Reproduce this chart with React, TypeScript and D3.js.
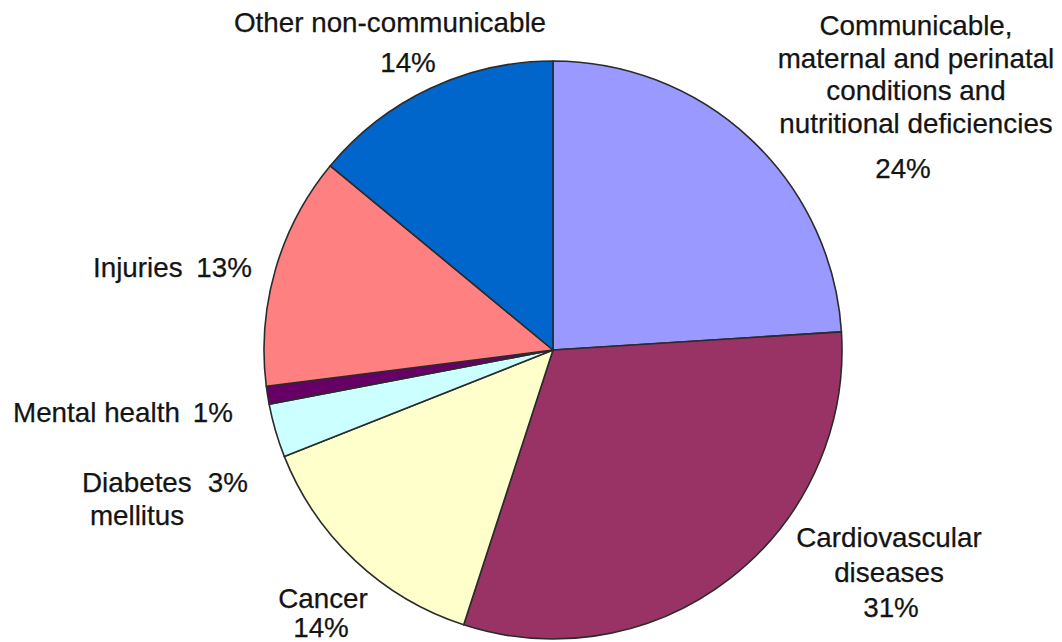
import React from "react";
import * as d3 from "d3";

// Share of burden by cause group, clockwise from 12 o'clock
const causes = [
  "Communicable",
  "Cardiovascular",
  "Cancer",
  "Diabetes",
  "Mental health",
  "Injuries",
  "Other non-communicable",
];
const shares = [24, 31, 14, 3, 1, 13, 14];
const sliceColors = ["#9999ff", "#993366", "#ffffcc", "#ccffff", "#660066", "#ff8080", "#0066cc"];

// Label text lines per cause
const labelLines: string[][] = [
  ["Communicable,", "maternal and perinatal", "conditions and", "nutritional deficiencies"],
  ["Cardiovascular", "diseases"],
  ["Cancer"],
  ["Diabetes"],
  ["Mental health"],
  ["Injuries"],
  ["Other non-communicable"],
];

const W = 1062;
const H = 642;
const cx = 553;
const cy = 350;
const R = 289;
const FONT = "'Liberation Sans', Arial, Helvetica, sans-serif";
const FS = 27.8;

type Placement = {
  x: number;
  y: number;
  lh: number;
  pctX: number;
  pctY: number;
  anchor: "start" | "middle" | "end";
  inline?: boolean;
};

// Where each label block sits around the pie
const placements: Placement[] = [
  { x: 916, y: 35, lh: 32.5, pctX: 903, pctY: 178, anchor: "middle" },
  { x: 889, y: 547, lh: 35, pctX: 891, pctY: 617, anchor: "middle" },
  { x: 323, y: 608, lh: 29, pctX: 321, pctY: 637, anchor: "middle" },
  { x: 82, y: 492, lh: 33, pctX: 248, pctY: 492, anchor: "start", inline: true },
  { x: 13, y: 422, lh: 33, pctX: 233, pctY: 422, anchor: "start", inline: true },
  { x: 93, y: 277, lh: 33, pctX: 252, pctY: 277, anchor: "start", inline: true },
  { x: 390, y: 32, lh: 40, pctX: 408, pctY: 72, anchor: "middle" },
];

export default function App() {
  const pie = d3
    .pie<number>()
    .sort(null)
    .value((d) => d)
    .startAngle(0)
    .endAngle(2 * Math.PI);
  const arcs = pie(shares);
  const arc = d3.arc<d3.PieArcDatum<number>>().innerRadius(0).outerRadius(R);

  return (
    <svg
      width={W}
      height={H}
      viewBox={`0 0 ${W} ${H}`}
      style={{ position: "absolute", left: 0, top: 0, background: "#fff" }}
    >
      <g transform={`translate(${cx},${cy})`}>
        {arcs.map((a, i) => (
          <path
            key={causes[i]}
            d={arc(a) || ""}
            fill={sliceColors[i]}
            stroke="#2b2b2b"
            strokeWidth={1.6}
            strokeLinejoin="round"
          />
        ))}
      </g>
      <g fontFamily={FONT} fontSize={FS} fill="#141414" stroke="#141414" strokeWidth={0.25}>
        {placements.map((p, i) => {
          const lines = labelLines[i];
          const pct = `${shares[i]}%`;
          if (p.inline) {
            return (
              <g key={causes[i]}>
                <text x={p.x} y={p.y} textAnchor="start">
                  {lines[0]}
                </text>
                <text x={p.pctX} y={p.pctY} textAnchor="end">
                  {pct}
                </text>
                {i === 3 && (
                  <text x={137} y={p.y + p.lh} textAnchor="middle">
                    mellitus
                  </text>
                )}
              </g>
            );
          }
          return (
            <g key={causes[i]}>
              {lines.map((ln, j) => (
                <text key={j} x={p.x} y={p.y + j * p.lh} textAnchor={p.anchor}>
                  {ln}
                </text>
              ))}
              <text x={p.pctX} y={p.pctY} textAnchor="middle">
                {pct}
              </text>
            </g>
          );
        })}
      </g>
    </svg>
  );
}
